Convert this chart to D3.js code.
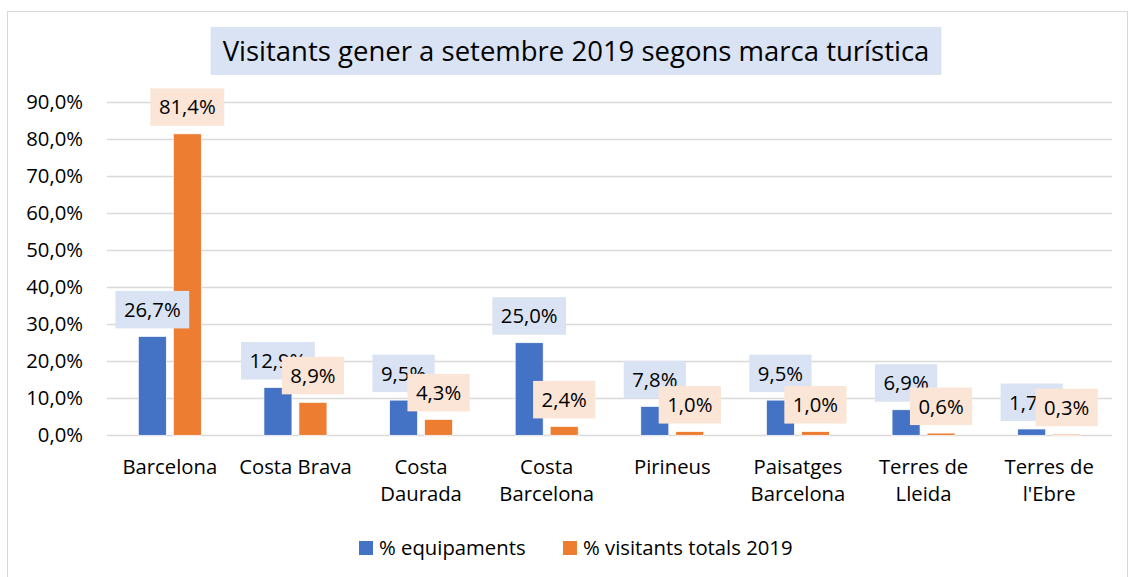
<!DOCTYPE html>
<html>
<head>
<meta charset="utf-8">
<script src="https://d3js.org/d3.v7.min.js"></script>
<style>
  body { margin: 0; background: #fff; }
  text { font-family: "Open Sans", Lato, sans-serif; fill: #000; }
</style>
</head>
<body>
<div id="chart"></div>
<script>
  // data
  const categories = ["Barcelona", "Costa Brava", "Costa Daurada", "Costa Barcelona",
    "Pirineus", "Paisatges Barcelona", "Terres de Lleida", "Terres de l'Ebre"]
  const categoryLines = [["Barcelona"], ["Costa Brava"], ["Costa", "Daurada"], ["Costa", "Barcelona"],
    ["Pirineus"], ["Paisatges", "Barcelona"], ["Terres de", "Lleida"], ["Terres de", "l'Ebre"]]
  const equipaments = [26.7, 12.9, 9.5, 25.0, 7.8, 9.5, 6.9, 1.7]
  const visitants = [81.4, 8.9, 4.3, 2.4, 1.0, 1.0, 0.6, 0.3]
  const yTicks = [0, 10, 20, 30, 40, 50, 60, 70, 80, 90]
  const seriesNames = ["% equipaments", "% visitants totals 2019"]
  const title = "Visitants gener a setembre 2019 segons marca turística"

  const width = 1131, height = 577
  const margin = { top: 102, right: 19, bottom: 142, left: 107 }
  const colors = ["#4472c4", "#ed7d31"]
  const labelFill = ["#dae3f3", "#fbe5d6"]
  const fs = "20.3px"

  const fmt = v => v.toFixed(1).replace(".", ",") + "%"

  const svg = d3.select("#chart").append("svg")
      .attr("width", width)
      .attr("height", height)

  // chart frame
  svg.append("rect")
      .attr("x", 7.5).attr("y", 11.5)
      .attr("width", 1120).attr("height", 580)
      .attr("fill", "#fff")
      .attr("stroke", "#d9d9d9")

  const x = d3.scaleBand()
      .domain(categories)
      .range([margin.left, width - margin.right])

  const y = d3.scaleLinear()
      .domain([0, 90])
      .range([height - margin.bottom + 0.3, margin.top])

  const series = [equipaments, visitants]
  const barW = 28, barGap = 7
  const xOff = i => x.bandwidth() / 2 + (i === 0 ? -(barGap / 2 + barW) : barGap / 2)

  // gridlines
  svg.append("g")
      .selectAll("line")
      .data(yTicks)
      .join("line")
      .attr("x1", margin.left)
      .attr("x2", width - margin.right)
      .attr("y1", d => Math.round(y(d)) + 0.5)
      .attr("y2", d => Math.round(y(d)) + 0.5)
      .attr("stroke", "#d9d9d9")
      .attr("stroke-width", 1.5)

  // y tick labels
  svg.append("g")
      .selectAll("text")
      .data(yTicks)
      .join("text")
      .attr("x", 83)
      .attr("y", d => y(d))
      .attr("dy", "0.35em")
      .attr("text-anchor", "end")
      .style("font-size", fs)
      .text(d => d.toFixed(1).replace(".", ",") + "%")

  // bars
  series.forEach((vals, i) => {
    svg.append("g")
        .selectAll("rect")
        .data(vals)
        .join("rect")
        .attr("x", (d, j) => x(categories[j]) + xOff(i))
        .attr("y", d => y(d))
        .attr("width", barW)
        .attr("height", d => y(0) - y(d))
        .attr("fill", colors[i])
        .attr("stroke", "#fff")
        .attr("stroke-width", 0.7)
  })

  // data labels with boxes, orange drawn over blue
  series.forEach((vals, i) => {
    const g = svg.append("g")
    vals.forEach((v, j) => {
      const cx = x(categories[j]) + xOff(i) + barW / 2
      const bottom = y(v) - 8
      const lbl = g.append("g")
      const rect = lbl.append("rect").attr("fill", labelFill[i])
      const t = lbl.append("text")
          .attr("x", cx)
          .attr("y", bottom - 18.5)
          .attr("dy", "0.35em")
          .attr("text-anchor", "middle")
          .style("font-size", fs)
          .text(fmt(v))
      const w = t.node().getComputedTextLength() + 17
      rect.attr("x", cx - w / 2).attr("y", bottom - 37.5)
          .attr("width", w).attr("height", 37.5)
    })
  })

  // x axis labels
  svg.append("g")
      .selectAll("text")
      .data(categories)
      .join("text")
      .attr("text-anchor", "middle")
      .attr("x", d => x(d) + x.bandwidth() / 2)
      .attr("y", 467)
      .style("font-size", fs)
      .each(function (d, j) {
        d3.select(this).selectAll("tspan")
            .data(categoryLines[j])
            .join("tspan")
            .attr("x", x(d) + x.bandwidth() / 2)
            .attr("dy", (l, k) => k === 0 ? "0.35em" : "27px")
            .text(l => l)
      })

  // title
  const tg = svg.append("g")
  const tRect = tg.append("rect").attr("fill", "#dae3f3")
  const tText = tg.append("text")
      .attr("x", 576)
      .attr("y", 51)
      .attr("dy", "0.35em")
      .attr("text-anchor", "middle")
      .style("font-size", "27.5px")
      .text(title)
  const tw = tText.node().getComputedTextLength() + 24
  tRect.attr("x", 576 - tw / 2).attr("y", 27).attr("width", tw).attr("height", 48)

  // legend
  const legendX = [359, 563]
  seriesNames.forEach((name, i) => {
    svg.append("rect")
        .attr("x", legendX[i]).attr("y", 541)
        .attr("width", 14).attr("height", 14)
        .attr("fill", colors[i])
    svg.append("text")
        .attr("x", legendX[i] + 20)
        .attr("y", 548)
        .attr("dy", "0.35em")
        .style("font-size", fs)
        .text(name)
  })
</script>
</body>
</html>
